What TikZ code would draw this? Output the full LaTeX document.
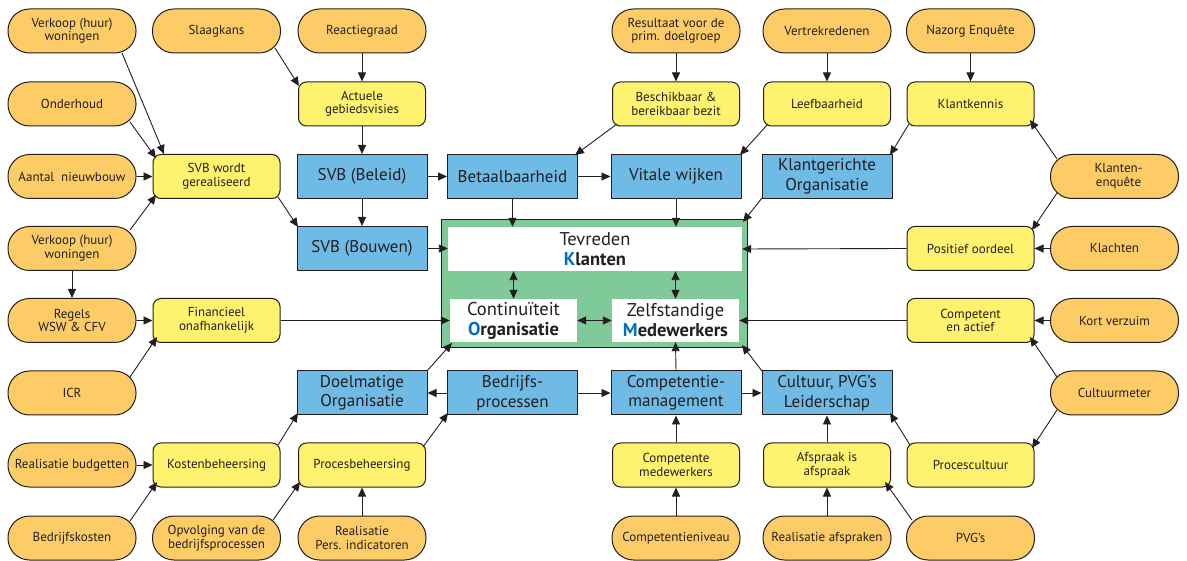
\documentclass[tikz,border=0pt]{standalone}
\usepackage{fontspec}
\setmainfont{PT Sans}
\usetikzlibrary{arrows.meta}

\definecolor{ink}{RGB}{35,31,32}
\definecolor{pillfill}{RGB}{253,204,102}
\definecolor{cardfill}{RGB}{255,242,110}
\definecolor{blockfill}{RGB}{111,187,229}
\definecolor{hubfill}{RGB}{128,201,152}
\definecolor{accent}{RGB}{0,112,192}

\tikzset{
  base/.style={draw=ink, line width=1pt, text=ink, align=center, inner sep=0pt},
  pill/.style={base, fill=pillfill, minimum width=128pt, minimum height=44pt,
    rounded corners=21.5pt, font=\fontsize{13}{13.5}\selectfont},
  card/.style={base, fill=cardfill, minimum width=127pt, minimum height=44pt,
    rounded corners=8pt, font=\fontsize{13}{13.5}\selectfont},
  block/.style={base, fill=blockfill, minimum width=130pt, minimum height=44pt,
    font=\fontsize{17}{19.5}\selectfont},
  panel/.style={fill=white, inner sep=0pt, text=ink, align=center,
    font=\fontsize{18.5}{20}\selectfont},
  tip/.tip={Triangle[length=9pt,width=8pt]},
  arr/.style={draw=ink, line width=0.9pt, -tip},
  dbl/.style={draw=ink, line width=0.9pt, tip-tip},
}

\begin{document}
\begin{tikzpicture}[x=1pt,y=-1pt]
\useasboundingbox (0,0) rectangle (1187,561);

% central block with the three goals
\node[draw=ink, line width=1pt, fill=hubfill, minimum width=306pt, minimum height=128pt, inner sep=0pt] (hub) at (594,284) {};
\node[panel, minimum width=294pt, minimum height=44pt] (klant) at (595,249)
  {Tevreden\\\textbf{\textcolor{accent}{K}lanten}};
\node[panel, minimum width=127pt, minimum height=43pt] (cont) at (513.5,320.5)
  {Continuïteit\\\textbf{\textcolor{accent}{O}rganisatie}};
\node[panel, minimum width=127pt, minimum height=43pt] (zelf) at (675.5,320.5)
  {Zelfstandige\\\textbf{\textcolor{accent}{M}edewerkers}};

% column 1
\node[pill] (verkA) at (72,31) {Verkoop (huur)\\woningen};
\node[pill] (onder) at (72,104) {Onderhoud};
\node[pill] (aantal) at (72,176.5) {Aantal\ \ nieuwbouw};
\node[pill] (verkB) at (72,248.5) {Verkoop (huur)\\woningen};
\node[pill] (regels) at (72,320.5) {Regels\\WSW \& CFV};
\node[pill] (icr) at (72,393) {ICR};
\node[pill] (budget) at (72,465) {Realisatie budgetten};
\node[pill] (bkost) at (72,538) {Bedrijfskosten};

% column 2
\node[pill] (slaag) at (216.5,31) {Slaagkans};
\node[card] (svbw) at (216.5,176.5) {SVB wordt\\gerealiseerd};
\node[card] (finan) at (216.5,320.5) {Financieel\\onafhankelijk};
\node[card] (kosten) at (216.5,465) {Kostenbeheersing};
\node[pill] (opvolg) at (216.5,538) {Opvolging van de\\bedrijfsprocessen};

% column 3
\node[pill] (reactie) at (362,31) {Reactiegraad};
\node[card] (visie) at (362,104) {Actuele\\gebiedsvisies};
\node[block] (beleid) at (362,176.5) {SVB (Beleid)};
\node[block] (bouwen) at (362,248.5) {SVB (Bouwen)};
\node[block] (doelm) at (362,393) {Doelmatige\\Organisatie};
\node[card] (proces) at (362,465) {Procesbeheersing};
\node[pill] (pers) at (362,538) {Realisatie\\Pers. indicatoren};

% column 4
\node[block] (betaal) at (512.5,176.5) {Betaalbaarheid};
\node[block] (bedrijf) at (512.5,393) {Bedrijfs-\\processen};

% column 5
\node[pill] (result) at (676,31) {Resultaat voor de\\prim. doelgroep};
\node[card] (bezit) at (676,104) {Beschikbaar \&\\bereikbaar bezit};
\node[block] (vitaal) at (676,176.5) {Vitale wijken};
\node[block] (compm) at (676,393) {Competentie-\\management};
\node[card] (compw) at (676,465) {Competente\\medewerkers};
\node[pill] (compn) at (676,538) {Competentieniveau};

% column 6
\node[pill] (vertrek) at (827,31) {Vertrekredenen};
\node[card] (leef) at (827,104) {Leefbaarheid};
\node[block] (kgo) at (827,176.5) {Klantgerichte\\Organisatie};
\node[block] (cultuur) at (827,393) {Cultuur, PVG’s\\Leiderschap};
\node[card] (afspr) at (827,465) {Afspraak is\\afspraak};
\node[pill] (realafs) at (827,538) {Realisatie afspraken};

% column 7
\node[pill] (nazorg) at (970.5,31) {Nazorg Enquête};
\node[card] (kennis) at (970.5,104) {Klantkennis};
\node[card] (posit) at (970.5,248.5) {Positief oordeel};
\node[card] (compa) at (970.5,320.5) {Competent\\en actief};
\node[card] (pcult) at (970.5,465) {Procescultuur};
\node[pill] (pvg) at (970.5,538) {PVG’s};

% column 8
\node[pill] (enq) at (1114.5,176.5) {\hspace*{8pt}Klanten-\\\hspace*{8pt}enquête};
\node[pill] (klacht) at (1114.5,248.5) {Klachten};
\node[pill] (verzuim) at (1114.5,320.5) {Kort verzuim};
\node[pill] (meter) at (1114.5,393) {Cultuurmeter};

% left side: building and finance
\draw[arr] ([shift={(50,22)}]verkA.center) -- ([shift={(-52.5,-22.5)}]svbw.center);
\draw[arr] ([shift={(58,18)}]onder.center) -- ([shift={(-60.5,-18.5)}]svbw.center);
\draw[arr] (aantal) -- (svbw);
\draw[arr] ([shift={(58,-18.5)}]verkB.center) -- ([shift={(-60.5,18.5)}]svbw.center);
\draw[arr] (verkB) -- (regels);
\draw[arr] (regels) -- (finan);
\draw[arr] ([shift={(58,-16)}]icr.center) -- ([shift={(-59.5,16.5)}]finan.center);
\draw[arr] (finan.east) -- (cont.west);
\draw[arr] ([shift={(58.5,17)}]slaag.center) -- ([shift={(-63,-18)}]visie.center);
\draw[arr] (reactie) -- (visie);
\draw[arr] (visie) -- (beleid);
\draw[arr] (beleid) -- (bouwen);
\draw[arr] ([shift={(61.5,20.5)}]svbw.center) -- ([shift={(-64,-21.5)}]bouwen.center);
\draw[arr] (bouwen.east) -- (bouwen -| klant.west);
\draw[arr] (beleid) -- (betaal);
\draw[arr] ([shift={(-59,20)}]bezit.center) -- ([shift={(62.5,-21.5)}]betaal.center);
\draw[arr] (betaal.south) -- (betaal.south |- klant.north);
\draw[arr] (betaal) -- (vitaal);
\draw[arr] (result) -- (bezit);

% top right: customers
\draw[arr] (vertrek) -- (leef);
\draw[arr] ([shift={(-59,20)}]leef.center) -- ([shift={(64,-21.5)}]vitaal.center);
\draw[arr] (vitaal.south) -- (vitaal.south |- klant.north);
\draw[arr] (nazorg) -- (kennis);
\draw[arr] ([shift={(-61.5,20)}]kennis.center) -- ([shift={(63,-21.5)}]kgo.center);
\draw[arr] ([shift={(-57.5,-17.5)}]enq.center) -- ([shift={(59.5,16)}]kennis.center);
\draw[arr] ([shift={(-57.5,16.5)}]enq.center) -- ([shift={(61.5,-18.5)}]posit.center);
\draw[arr] (klacht) -- (posit);
\draw[arr] (posit.west) -- (klant.east);
\draw[arr] ([shift={(-65,21.5)}]kgo.center) -- ([shift={(149,-62)}]hub.center);

% inner relations
\draw[dbl] (klant.south -| cont.north) -- (cont.north);
\draw[dbl] (klant.south -| zelf.north) -- (zelf.north);
\draw[dbl] (cont.east) -- (zelf.west);

% right side: staff
\draw[arr] (compa.west) -- (zelf.east);
\draw[arr] (verzuim) -- (compa);
\draw[arr] ([shift={(-57.5,-16)}]meter.center) -- ([shift={(59.5,16.5)}]compa.center);
\draw[arr] ([shift={(-57.5,17)}]meter.center) -- ([shift={(61.5,-17)}]pcult.center);
\draw[arr] ([shift={(-60.5,-20)}]pcult.center) -- ([shift={(63,20)}]cultuur.center);
\draw[arr] ([shift={(-58.5,-18)}]pvg.center) -- ([shift={(58,17)}]afspr.center);
\draw[arr] (realafs) -- (afspr);
\draw[arr] (afspr) -- (cultuur);
\draw[arr] (compn) -- (compw);
\draw[arr] (compw) -- (compm);
\draw[arr] (compm) -- (cultuur);
\draw[arr] (compm.north) -- (zelf.south);
\draw[arr] ([shift={(-65,-22)}]cultuur.center) -- ([shift={(148,61)}]hub.center);

% bottom left: processes and costs
\draw[arr] (bedrijf) -- (compm);
\draw[arr] (bedrijf) -- (doelm);
\draw[arr] ([shift={(65,-22)}]doelm.center) -- ([shift={(-142,59)}]hub.center);
\draw[arr] (budget) -- (kosten);
\draw[arr] ([shift={(58,-17)}]bkost.center) -- ([shift={(-59.5,17)}]kosten.center);
\draw[arr] ([shift={(61.5,-20)}]kosten.center) -- ([shift={(-64,20)}]doelm.center);
\draw[arr] ([shift={(56.5,-18)}]opvolg.center) -- ([shift={(-62,17)}]proces.center);
\draw[arr] (pers) -- (proces);
\draw[arr] ([shift={(61,-18)}]proces.center) -- ([shift={(-64.5,20)}]bedrijf.center);
\end{tikzpicture}
\end{document}
